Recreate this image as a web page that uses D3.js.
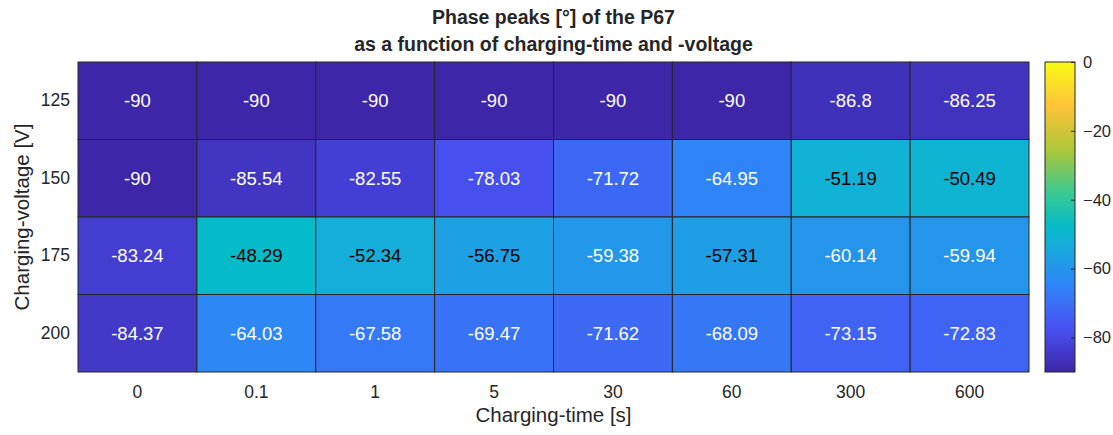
<!DOCTYPE html>
<html>
<head>
<meta charset="utf-8">
<script src="https://cdn.jsdelivr.net/npm/d3@7"></script>
<style>
  body { margin: 0; background: #fff; }
  svg { display: block; font-family: "Liberation Sans", Arial, sans-serif; }
  .tick line { stroke: #262626; }
  .domain { display: none; }
</style>
</head>
<body>
<script>
// data
const times = ["0", "0.1", "1", "5", "30", "60", "300", "600"];
const voltages = ["125", "150", "175", "200"];
const v125 = [-90, -90, -90, -90, -90, -90, -86.8, -86.25];
const v150 = [-90, -85.54, -82.55, -78.03, -71.72, -64.95, -51.19, -50.49];
const v175 = [-83.24, -48.29, -52.34, -56.75, -59.38, -57.31, -60.14, -59.94];
const v200 = [-84.37, -64.03, -67.58, -69.47, -71.62, -68.09, -73.15, -72.83];
const colorTicks = [-80, -60, -40, -20, 0];
const colorLimits = [-90, 0];

// parula-like colormap, positions 0..1
const parulaPos = [0, 1 / 7, 2 / 7, 3 / 7, 0.465, 4 / 7, 5 / 7, 6 / 7, 1];
const parula = [
  [0.2422, 0.1504, 0.6603], [0.2810, 0.3228, 0.9579], [0.1786, 0.5289, 0.9682],
  [0.0689, 0.6948, 0.8394], [0.0150, 0.7300, 0.7850], [0.2161, 0.7843, 0.5923],
  [0.6720, 0.7793, 0.2227], [0.9970, 0.7659, 0.2199], [0.9769, 0.9839, 0.0805]
].map(c => d3.rgb(c[0] * 255, c[1] * 255, c[2] * 255).toString());

const rows = [v125, v150, v175, v200];
const cells = [];
voltages.forEach((v, i) => times.forEach((t, j) => cells.push({ v, t, value: rows[i][j] })));

const width = 1113, height = 435;
const margin = { left: 78, right: 1029, top: 62, bottom: 372 };

const svg = d3.select("body").append("svg")
    .attr("width", width)
    .attr("height", height);

const x = d3.scaleBand().domain(times).range([margin.left, margin.right]);
const y = d3.scaleBand().domain(voltages).range([margin.top, margin.bottom]);

const color = d3.scaleLinear()
    .domain(parulaPos.map(p => colorLimits[0] + p * (colorLimits[1] - colorLimits[0])))
    .range(parula)
    .interpolate(d3.interpolateRgb)
    .clamp(true);

const cell = svg.append("g").selectAll("g")
    .data(cells)
    .enter().append("g");

cell.append("rect")
    .attr("x", d => x(d.t))
    .attr("y", d => y(d.v))
    .attr("width", x.bandwidth())
    .attr("height", y.bandwidth())
    .style("fill", d => color(d.value))
    .style("stroke", "#262626")
    .style("stroke-width", 1);

cell.append("text")
    .attr("x", d => x(d.t) + x.bandwidth() / 2)
    .attr("y", d => y(d.v) + y.bandwidth() / 2)
    .attr("dy", "0.35em")
    .attr("text-anchor", "middle")
    .style("font-size", "18.5px")
    .style("fill", d => d.value > -58 ? "#000" : "#fff")
    .text(d => d.value);

// axes
const xAxis = svg.append("g")
    .attr("transform", "translate(0," + margin.bottom + ")")
    .call(d3.axisBottom(x).tickSize(0).tickPadding(14));
xAxis.selectAll("text").style("font-size", "17.5px").style("fill", "#262626");

const yAxis = svg.append("g")
    .attr("transform", "translate(" + margin.left + ",0)")
    .call(d3.axisLeft(y).tickSize(0).tickPadding(8));
yAxis.selectAll("text").style("font-size", "17.5px").style("fill", "#262626");

svg.append("text")
    .attr("x", (margin.left + margin.right) / 2)
    .attr("y", 422)
    .attr("text-anchor", "middle")
    .style("font-size", "20.5px")
    .style("fill", "#262626")
    .text("Charging-time [s]");

svg.append("text")
    .attr("transform", "translate(29," + (margin.top + margin.bottom) / 2 + ") rotate(-90)")
    .attr("text-anchor", "middle")
    .style("font-size", "20.5px")
    .style("fill", "#262626")
    .text("Charging-voltage [V]");

const title = svg.append("text")
    .attr("text-anchor", "middle")
    .style("font-size", "19.5px")
    .style("font-weight", "bold")
    .style("fill", "#262626");
title.append("tspan").attr("x", (margin.left + margin.right) / 2).attr("y", 24).text("Phase peaks [°] of the P67");
title.append("tspan").attr("x", (margin.left + margin.right) / 2).attr("y", 51).text("as a function of charging-time and -voltage");

// colorbar
const cbX = 1045, cbW = 30;
const cbScale = d3.scaleLinear().domain(colorLimits).range([margin.bottom, margin.top]);

const grad = svg.append("defs").append("linearGradient")
    .attr("id", "cbar")
    .attr("x1", 0).attr("y1", 1).attr("x2", 0).attr("y2", 0);
grad.selectAll("stop")
    .data(d3.range(0, 1.0001, 0.01))
    .enter().append("stop")
    .attr("offset", d => d)
    .attr("stop-color", d => color(colorLimits[0] + d * (colorLimits[1] - colorLimits[0])));

svg.append("rect")
    .attr("x", cbX)
    .attr("y", margin.top)
    .attr("width", cbW)
    .attr("height", margin.bottom - margin.top)
    .style("fill", "url(#cbar)")
    .style("stroke", "#262626")
    .style("stroke-width", 1);

const cbAxis = svg.append("g")
    .attr("transform", "translate(" + (cbX + cbW) + ",0)")
    .call(d3.axisRight(cbScale).tickValues(colorTicks).tickSize(-4).tickPadding(8));
cbAxis.selectAll("text").style("font-size", "16.5px").style("fill", "#262626");
</script>
</body>
</html>
